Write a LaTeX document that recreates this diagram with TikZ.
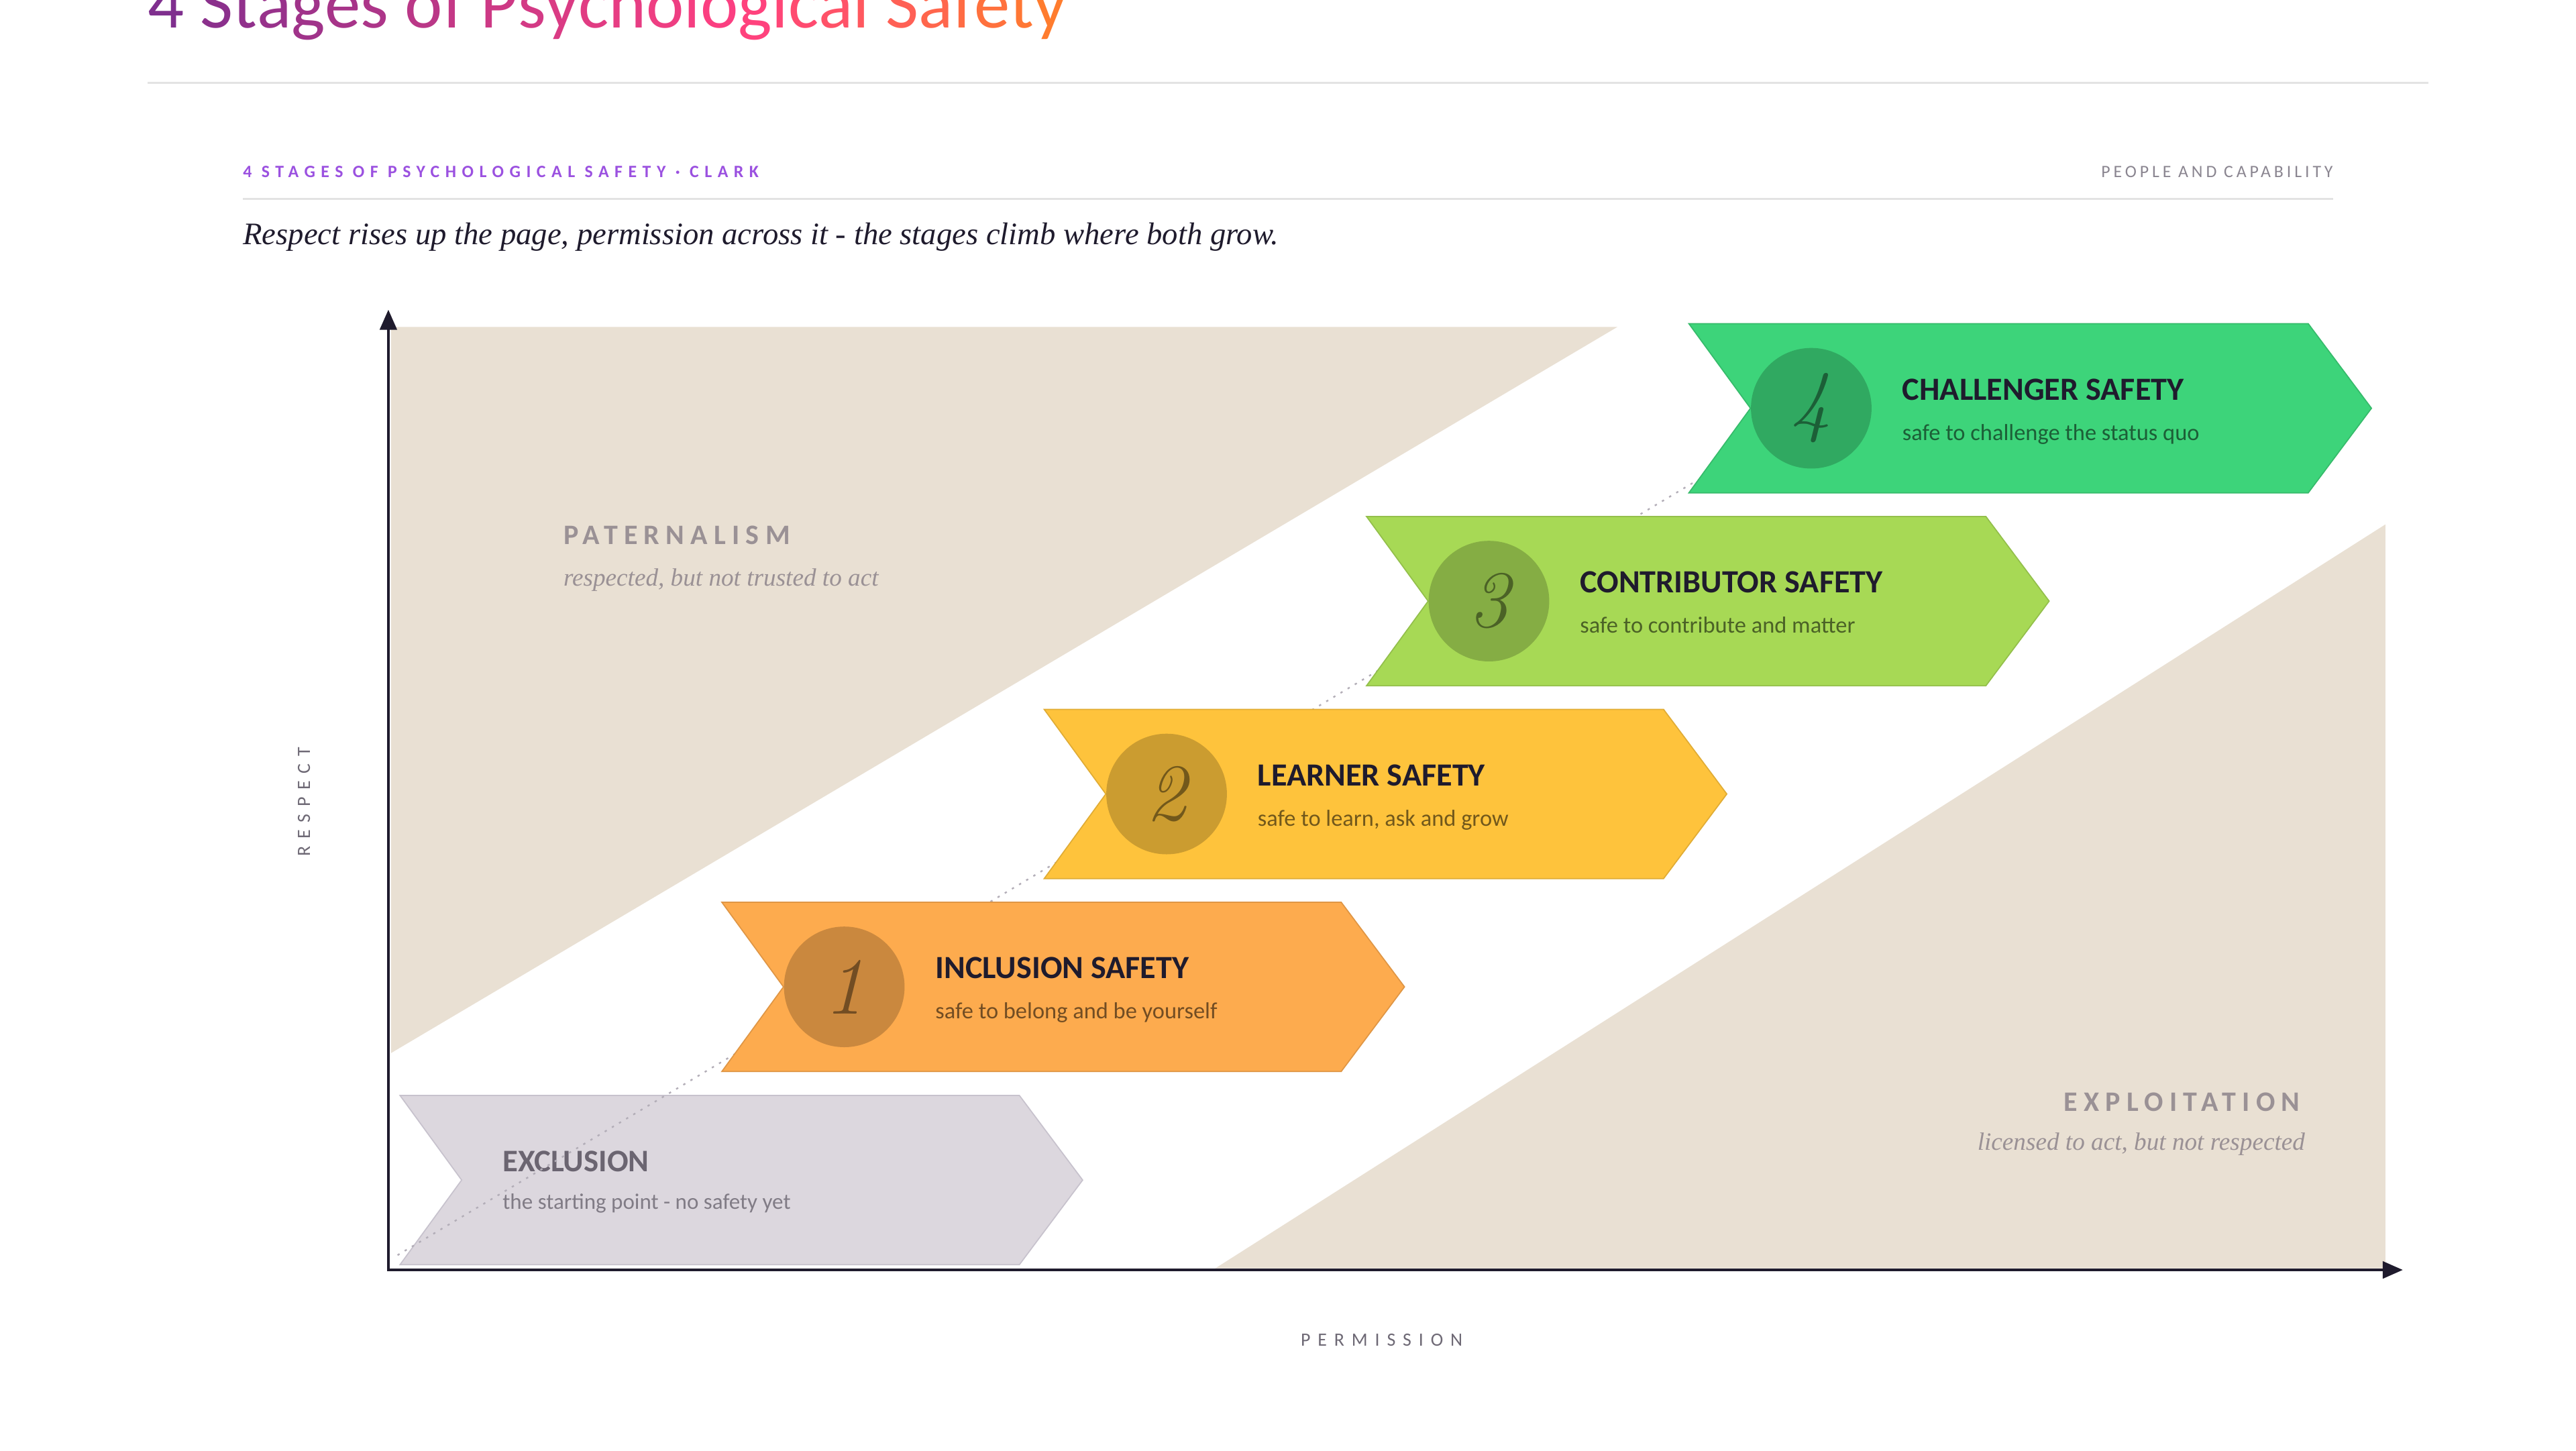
\documentclass[tikz,border=0pt]{standalone}
\usepackage{fontspec}
\usetikzlibrary{arrows.meta}
\newfontfamily\sans{Carlito}
\newfontfamily\tim{Liberation Serif}
\newfontfamily\kickerfont{Carlito}[LetterSpace=33]
\newfontfamily\tagfont{Carlito}[LetterSpace=19]
\newfontfamily\regionfont{Carlito}[LetterSpace=22]
\newfontfamily\axisfont{Carlito}[LetterSpace=39]
\definecolor{tA}{HTML}{7B2E8E}
\definecolor{tB}{HTML}{FF4080}
\definecolor{tC}{HTML}{FF7F2A}
\definecolor{ink}{HTML}{1F1B2D}
\definecolor{beige}{HTML}{E9E0D3}
\definecolor{incl}{HTML}{FDAB4E}
\definecolor{learn}{HTML}{FEC33C}
\definecolor{contr}{HTML}{A7D955}
\definecolor{chal}{HTML}{3DD47A}
\definecolor{exclfill}{HTML}{DCD7DE}
\definecolor{excldraw}{HTML}{C7C2CD}
\definecolor{excltext}{HTML}{6B6571}
\definecolor{regiongray}{HTML}{9A9195}
\definecolor{kicker}{HTML}{9B51E0}
\definecolor{taggray}{HTML}{8A8590}
\definecolor{rulegray}{HTML}{E3E3E3}
\definecolor{dashgray}{HTML}{B3AEB8}
\definecolor{axisgray}{HTML}{6E6975}
\newcommand\tgA[2]{\textcolor{tB!#1!tA}{#2}}
\newcommand\tgB[2]{\textcolor{tC!#1!tB}{#2}}
\tikzset{
  chevron/.pic={\path[pic actions] (0,0) -- (377,0) -- (415.5,51.5) -- (377,103) -- (0,103) -- (37.5,51.5) -- cycle;},
  txt/.style={inner sep=0pt, outer sep=0pt},
  numdisc/.style={circle, fill=black, fill opacity=0.2, text opacity=1, minimum size=1.835cm, inner sep=0pt,
    font=\itshape\fontsize{35}{35}\selectfont},
  stagetitle/.style={txt, anchor=base west, text=ink, font=\sans\bfseries\fontsize{14}{14}\selectfont},
  stagesub/.style={txt, anchor=base west, font=\sans\fontsize{10}{10}\selectfont},
  regionlabel/.style={txt, text=regiongray, font=\regionfont\bfseries\fontsize{12.2}{12.2}\selectfont},
  regionsub/.style={txt, text=regiongray, font=\tim\itshape\fontsize{10.8}{10.8}\selectfont},
  axislabel/.style={txt, text=axisgray, font=\axisfont\fontsize{8.1}{8.1}\selectfont},
  axisline/.style={draw=ink, line width=1.2pt, line join=miter},
  trail/.style={draw=dashgray, line width=0.7pt, dash pattern=on 1pt off 2.6pt},
  rule/.style={draw=rulegray, line width=0.8pt},
}
\newcommand\stagebox[7]{%
  \pic[fill=#4, draw=#4!88!black, line width=0.5pt] at (#2,#3) {chevron};
  \path (#2,#3) ++(74.5,51.5) node[numdisc, text=black!55!#4] (#1n) {#5};
  \path (#2,#3) ++(130,46.5) node[stagetitle] (#1t) {#6};
  \path (#2,#3) ++(130,71) node[stagesub, text=black!55!#4] (#1s) {#7};
}
\begin{document}
\begin{tikzpicture}[x=0.025cm, y=-0.025cm]
\useasboundingbox (0,0) rectangle (1568,883);
\fill[white] (0,0) rectangle (1568,883);
% header
\node[txt, anchor=base west, font=\sans\fontsize{31}{31}\selectfont] (title) at (90,17)
  {\tgA{3}{4} \tgA{12}{S}\tgA{17}{t}\tgA{22}{a}\tgA{28}{g}\tgA{33}{e}\tgA{38}{s} \tgA{48}{o}\tgA{55}{f} \tgA{62}{P}\tgA{67}{s}\tgA{72}{y}\tgA{77}{c}\tgA{82}{h}\tgA{87}{o}\tgA{92}{l}\tgA{97}{o}\tgB{3}{g}\tgB{10}{i}\tgB{18}{c}\tgB{28}{a}\tgB{38}{l} \tgB{50}{S}\tgB{60}{a}\tgB{70}{f}\tgB{78}{e}\tgB{88}{t}\tgB{95}{y}};
\draw[rule] (90,50.5) -- (1478,50.5);
\node[txt, anchor=base west, text=kicker, font=\kickerfont\bfseries\fontsize{7.5}{7.5}\selectfont] (kick) at (148,108)
  {4 STAGES OF PSYCHOLOGICAL SAFETY · CLARK};
\node[txt, anchor=base east, text=taggray, font=\tagfont\fontsize{7.5}{7.5}\selectfont] (tag) at (1420,108)
  {PEOPLE AND CAPABILITY};
\draw[rule] (148,121) -- (1420,121);
\node[txt, anchor=base west, text=ink, font=\tim\itshape\fontsize{13.55}{13.55}\selectfont] (lede) at (148,149)
  {Respect rises up the page, permission across it - the stages climb where both grow.};
% regions
\fill[beige] (238,199) -- (984.5,199) -- (238,641) -- cycle;
\fill[beige] (739.8,772) -- (1452,319.2) -- (1452,772) -- cycle;
\node[regionlabel, anchor=base west] (pat) at (343,331.5) {PATERNALISM};
\node[regionsub, anchor=base west] (patsub) at (343,356.5) {respected, but not trusted to act};
\node[regionlabel, anchor=base east] (exp) at (1400,676.5) {EXPLOITATION};
\node[regionsub, anchor=base east] (expsub) at (1403,700) {licensed to act, but not respected};
% axes
\coordinate (O) at (236.4,773);
\coordinate (ytip) at (236.4,188.5);
\coordinate (xtip) at (1462.6,773);
\draw[axisline, {Triangle[length=8.7pt, width=7.3pt]}-{Triangle[length=8.7pt, width=7.3pt]}] (ytip) -- (O) -- (xtip);
\node[axislabel, rotate=90] (ylab) at (185,488) {RESPECT};
\node[axislabel, anchor=base] (xlab) at (841,819.5) {PERMISSION};
% exclusion
\pic[fill=exclfill, draw=excldraw, line width=0.5pt] at (243.5,666.8) {chevron};
\node[txt, anchor=base west, text=excltext, font=\sans\bfseries\fontsize{13.6}{13.6}\selectfont] (exclt) at (306,713) {EXCLUSION};
\node[txt, anchor=base west, text=excltext!85!white, font=\sans\fontsize{9.6}{9.6}\selectfont] (excls) at (306,736) {the starting point - no safety yet};
% path of the stages
\coordinate (dstart) at (242,764);
\coordinate (dend) at (1032,293);
\draw[trail] (dstart) -- (dend);
% stages
\stagebox{s1}{439.4}{549.2}{incl}{1}{INCLUSION SAFETY}{safe to belong and be yourself}
\stagebox{s2}{635.6}{431.8}{learn}{2}{LEARNER SAFETY}{safe to learn, ask and grow}
\stagebox{s3}{831.8}{314.4}{contr}{3}{CONTRIBUTOR SAFETY}{safe to contribute and matter}
\stagebox{s4}{1028}{197}{chal}{4}{CHALLENGER SAFETY}{safe to challenge the status quo}
\end{tikzpicture}
\end{document}
